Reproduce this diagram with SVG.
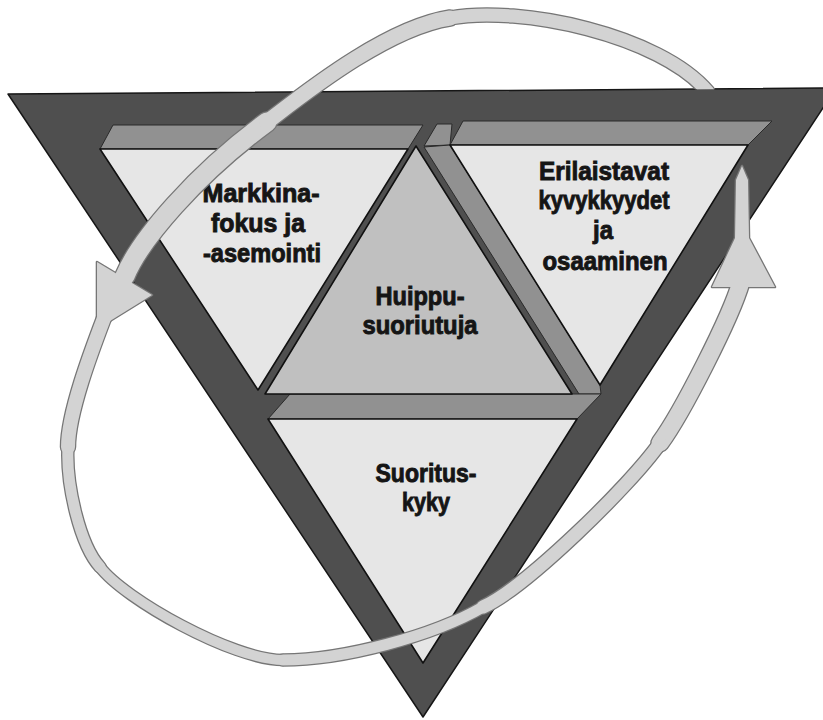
<svg xmlns="http://www.w3.org/2000/svg" width="823" height="720" viewBox="0 0 823 720">
<style>
.frame{fill:#4f4f4f;stroke:#161616;stroke-width:1.5;stroke-linejoin:round}
.bevel{fill:#919191;stroke:#2a2a2a;stroke-width:1}
.light{fill:#e6e6e6;stroke:#111;stroke-width:1.6;stroke-linejoin:round}
.mid{fill:#c0c0c0;stroke:#111;stroke-width:1.6;stroke-linejoin:round}
.lbl{font-family:"Liberation Sans","Arial",sans-serif;font-weight:bold;font-size:25px;fill:#151515;stroke:#151515;stroke-width:0.9;text-anchor:middle}
.rb-o{fill:none;stroke:#767676;stroke-linecap:round}
.rb-f{fill:none;stroke:#d3d3d3;stroke-linecap:round}
.ah-o{fill:#767676;stroke:#767676;stroke-width:2.6;stroke-linejoin:round}
.ah-f{fill:#d3d3d3}
</style>
<defs>
<clipPath id="aboveFrame"><polygon points="0,0 823,0 823,88.5 0,94"/></clipPath>
</defs>

<g id="frame">
<polygon class="frame" points="8,94 836,88 423,717"/>
<polygon class="bevel" points="100,149 408,149 423,125 113,125"/>
<polygon class="bevel" points="450,145 748,145 772,121 463,121"/>
<polygon class="bevel" points="424,146 437,124 452,124 450,145"/>
<polygon class="bevel" points="424,147 450,145 600,385 601,394 579,394"/>
<polygon class="bevel" points="290,394 601,394 577,419 268,419"/>
</g>

<g id="markkina">
<polygon class="light" points="100,149 408,149 258,390"/>
<text class="lbl" x="261" y="202" textLength="117" lengthAdjust="spacingAndGlyphs">Markkina-</text>
<text class="lbl" x="258" y="232" textLength="94" lengthAdjust="spacingAndGlyphs">fokus ja</text>
<text class="lbl" x="262" y="262" textLength="118" lengthAdjust="spacingAndGlyphs">-asemointi</text>
</g>

<g id="erilaistavat">
<polygon class="light" points="450,145 748,145 600,385"/>
<text class="lbl" x="604" y="180" textLength="130" lengthAdjust="spacingAndGlyphs">Erilaistavat</text>
<text class="lbl" x="604" y="209" textLength="131" lengthAdjust="spacingAndGlyphs">kyvykkyydet</text>
<text class="lbl" x="603" y="239" textLength="20" lengthAdjust="spacingAndGlyphs">ja</text>
<text class="lbl" x="605" y="270" textLength="125" lengthAdjust="spacingAndGlyphs">osaaminen</text>
</g>

<g id="huippu">
<polygon class="mid" points="416,146 572,394 265,394"/>
<text class="lbl" x="420" y="305" textLength="89" lengthAdjust="spacingAndGlyphs">Huippu-</text>
<text class="lbl" x="420" y="334" textLength="115" lengthAdjust="spacingAndGlyphs">suoriutuja</text>
</g>

<g id="suorituskyky">
<polygon class="light" points="268,419 577,419 423,663"/>
<text class="lbl" x="426" y="482" textLength="101" lengthAdjust="spacingAndGlyphs">Suoritus-</text>
<text class="lbl" x="426" y="511" textLength="48" lengthAdjust="spacingAndGlyphs">kyky</text>
</g>

<g id="connectors">
<g id="outlines">
<path class="rb-o" stroke-width="19.5" d="M741,282 C731,317 682,413 660,443"/>
<path class="rb-o" stroke-width="15.5" d="M660,443 C630,486 525,588 483,607"/>
<path class="rb-o" stroke-width="13.5" d="M483,607 C433,636 343,660 283,660"/>
<path class="rb-o" stroke-width="12.5" d="M283,660 C233,660 124,599 100,567"/>
<path class="rb-o" stroke-width="13.5" d="M100,567 C80,545 66,485 68,447"/>
<path class="rb-o" stroke-width="16.5" d="M68,447 C68,412 93,347 104,318"/>
<path class="rb-o" stroke-width="21.5" d="M125,276 C140,240 195,175 267,122"/>
<path class="rb-o" stroke-width="17.5" d="M267,122 C300,97 385,28 450,18"/>
<path class="rb-o" stroke-width="15.5" clip-path="url(#aboveFrame)" d="M450,18 C520,5 660,35 708,92"/>
<polygon class="ah-o" points="742,166 748,180 749,238 775,287 712,287 735,238 736,180"/>
<polygon class="ah-o" points="97,262 152,295 110,321 97,318"/>
</g>
<g id="fills">
<path class="rb-f" stroke-width="17" d="M741,282 C731,317 682,413 660,443"/>
<path class="rb-f" stroke-width="13" d="M660,443 C630,486 525,588 483,607"/>
<path class="rb-f" stroke-width="11" d="M483,607 C433,636 343,660 283,660"/>
<path class="rb-f" stroke-width="10" d="M283,660 C233,660 124,599 100,567"/>
<path class="rb-f" stroke-width="11" d="M100,567 C80,545 66,485 68,447"/>
<path class="rb-f" stroke-width="14" d="M68,447 C68,412 93,347 104,318"/>
<path class="rb-f" stroke-width="19" d="M125,276 C140,240 195,175 267,122"/>
<path class="rb-f" stroke-width="15" d="M267,122 C300,97 385,28 450,18"/>
<path class="rb-f" stroke-width="13" clip-path="url(#aboveFrame)" d="M450,18 C520,5 660,35 708,92"/>
<polygon class="ah-f" points="742,166 748,180 749,238 775,287 712,287 735,238 736,180"/>
<polygon class="ah-f" points="97,262 152,295 110,321 97,318"/>
</g>
</g>
</svg>
